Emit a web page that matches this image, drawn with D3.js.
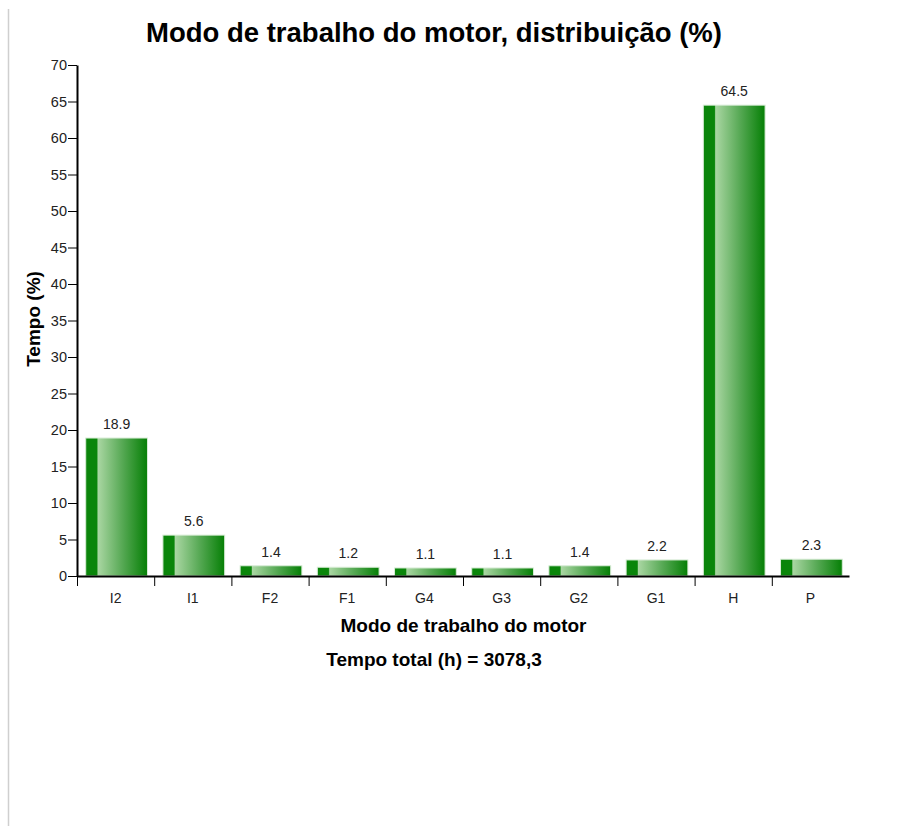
<!DOCTYPE html>
<html>
<head>
<meta charset="utf-8">
<script src="https://cdn.jsdelivr.net/npm/d3@7"></script>
<style>
  html, body { margin: 0; padding: 0; background: #fff; }
  svg { display: block; font-family: "Liberation Sans", Arial, sans-serif; }
</style>
</head>
<body>
<svg id="chart" width="909" height="826"></svg>
<script>
const categories = ["I2", "I1", "F2", "F1", "G4", "G3", "G2", "G1", "H", "P"];
const values = [18.9, 5.6, 1.4, 1.2, 1.1, 1.1, 1.4, 2.2, 64.5, 2.3];
const yTicks = [0, 5, 10, 15, 20, 25, 30, 35, 40, 45, 50, 55, 60, 65, 70];
const titleText = "Modo de trabalho do motor, distribuição (%)";
const xTitle = "Modo de trabalho do motor";
const yTitle = "Tempo (%)";
const footerText = "Tempo total (h) = 3078,3";

(function () {
const svg = d3.select("#chart");
const pLeft = 77, pRight = 849, pTop = 65, pBottom = 576;
const FONT = "Liberation Sans, Arial, sans-serif";

// page frame line
svg.append("line").attr("x1", 8.5).attr("x2", 8.5).attr("y1", 9).attr("y2", 826)
  .attr("stroke", "#cfcfcf").attr("stroke-width", 1.5);

const defs = svg.append("defs");
const grad = defs.append("linearGradient").attr("id", "barGrad")
  .attr("x1", "0%").attr("x2", "100%").attr("y1", "0%").attr("y2", "0%");
[["0%", "#0a850a"], ["18%", "#0a850a"], ["20%", "#a9d6a2"], ["60%", "#55a853"], ["100%", "#057f05"]]
  .forEach(([o, c]) => grad.append("stop").attr("offset", o).attr("stop-color", c));

const x = d3.scaleBand().domain(categories).range([pLeft, pRight]).paddingInner(0.2).paddingOuter(0.1);
const y = d3.scaleLinear().domain([0, 70]).range([pBottom, pTop]);

// bars
svg.append("g").selectAll("rect").data(categories).join("rect")
  .attr("x", (d) => x(d) + 1)
  .attr("y", (d, i) => y(values[i]))
  .attr("width", x.bandwidth())
  .attr("height", (d, i) => y(0) - y(values[i]))
  .attr("fill", "url(#barGrad)")
  .attr("stroke", "#d8ecd6").attr("stroke-width", 1);

// value labels
svg.append("g").selectAll("text").data(categories).join("text")
  .attr("x", (d) => x(d) + 1 + x.bandwidth() / 2)
  .attr("y", (d, i) => y(values[i]) - 9)
  .attr("text-anchor", "middle")
  .attr("font-family", FONT)
  .attr("font-size", 14).attr("fill", "#222")
  .text((d, i) => values[i].toFixed(1));

// y axis
const yAxis = svg.append("g").attr("transform", `translate(${pLeft},0)`)
  .call(d3.axisLeft(y).tickValues(yTicks).tickSize(9).tickPadding(1).tickSizeOuter(0));
yAxis.attr("font-size", 14.5).attr("font-family", FONT);
yAxis.select(".domain").attr("stroke", "#000").attr("stroke-width", 2);
yAxis.selectAll(".tick line").attr("stroke", "#000");
yAxis.selectAll(".tick text").attr("fill", "#222");

// x axis
const xAxis = svg.append("g").attr("transform", `translate(0,${pBottom})`)
  .call(d3.axisBottom(x).tickSize(0).tickPadding(17).tickSizeOuter(0));
xAxis.attr("font-size", 14).attr("font-family", FONT);
xAxis.select(".domain").attr("stroke", "#000").attr("stroke-width", 2);
xAxis.selectAll(".tick text").attr("fill", "#222");
const step = x.step();
xAxis.append("g").selectAll("line").data(categories).join("line")
  .attr("x1", (d) => x(d) - step * x.paddingOuter() + 0.5)
  .attr("x2", (d) => x(d) - step * x.paddingOuter() + 0.5)
  .attr("y1", 0).attr("y2", 10)
  .attr("stroke", "#000").attr("stroke-width", 1);

// titles
svg.append("text").attr("x", 434).attr("y", 42).attr("text-anchor", "middle").attr("font-family", FONT)
  .attr("font-size", 27.5).attr("font-weight", "bold").attr("fill", "#000").text(titleText);
svg.append("text").attr("transform", `translate(40,319) rotate(-90)`).attr("text-anchor", "middle").attr("font-family", FONT)
  .attr("font-size", 19).attr("font-weight", "bold").attr("fill", "#000").text(yTitle);
svg.append("text").attr("x", 463.5).attr("y", 632).attr("text-anchor", "middle").attr("font-family", FONT)
  .attr("font-size", 19).attr("font-weight", "bold").attr("fill", "#000").text(xTitle);
svg.append("text").attr("x", 434).attr("y", 666).attr("text-anchor", "middle").attr("font-family", FONT)
  .attr("font-size", 19).attr("font-weight", "bold").attr("fill", "#000").text(footerText);
})();
</script>
</body>
</html>
